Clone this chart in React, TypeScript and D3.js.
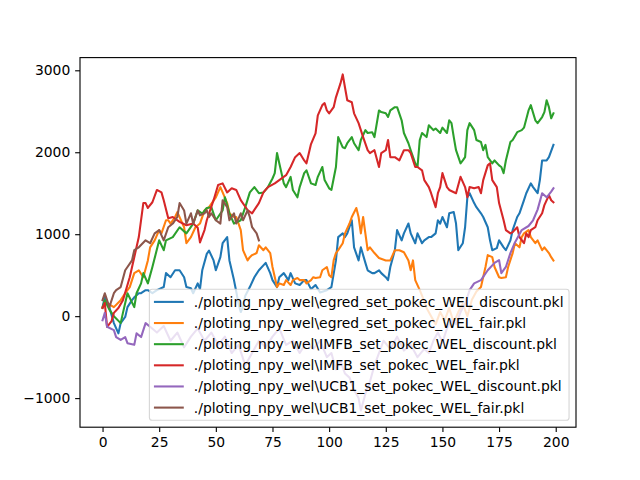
import { useRef, useEffect } from 'react';
import * as d3 from 'd3';

type Pt = [number, number];

// [step, welfare] pairs
const egredDiscount: Pt[] = [
  [0, 110], [1, 230], [3, 110], [5, -85], [7, -210], [8, -85], [10, -10], [11, 110], [13, 195], [14, 230],
  [16, 280], [17, 280], [19, 317], [20, 317], [22, 280], [24, 317], [27, 355], [28, 525], [30, 475], [32, 560],
  [34, 560], [36, 475], [37, 355], [39, 340], [40, 280], [42, 400], [43, 330], [44, 560], [46, 760], [47, 800],
  [49, 680], [50, 560], [52, 720], [53, 890], [55, 965], [56, 680], [58, 440], [59, 300], [60, 150], [61, 50],
  [62, 120], [63, 250], [65, 355], [67, 475], [69, 560], [72, 650], [74, 525], [75, 440], [77, 355], [78, 475],
  [80, 525], [82, 440], [83, 525], [85, 400], [87, 380], [89, 440], [90, 440], [92, 330], [94, 380], [96, 290],
  [99, 317], [101, 355], [103, 680], [104, 965], [106, 1010], [107, 965], [108, 1010], [110, 1170], [111, 840], [113, 680],
  [114, 840], [116, 650], [117, 560], [119, 525], [120, 525], [122, 560], [123, 525], [125, 475], [126, 440], [127, 600],
  [129, 805], [130, 1050], [132, 925], [133, 1010], [135, 1130], [136, 1010], [138, 890], [139, 1010], [141, 890], [142, 925],
  [144, 965], [145, 965], [147, 1010], [148, 1170], [149, 1130], [150, 1210], [152, 1085], [153, 1255], [155, 1270], [156, 1130],
  [157, 805], [159, 890], [160, 1085], [161, 1450], [162, 1500], [164, 1380], [165, 1330], [167, 1255], [168, 1210], [170, 1085],
  [171, 925], [172, 805], [174, 830], [175, 925], [177, 840], [178, 805], [180, 925], [181, 1050], [183, 1210], [184, 1255],
  [186, 1415], [187, 1500], [189, 1620], [190, 1575], [192, 1500], [193, 1660], [194, 1900], [196, 1900], [197, 1940], [199, 2090],
];

const egredFair: Pt[] = [
  [0, 110], [2, 160], [5, 110], [8, 195], [10, 280], [12, 355], [14, 525], [16, 560], [18, 475], [20, 680],
  [21, 840], [23, 925], [25, 1050], [26, 1010], [28, 1170], [29, 1170], [30, 1130], [32, 1210], [33, 1270], [36, 1085],
  [37, 890], [39, 965], [41, 1085], [43, 1130], [45, 1290], [47, 1330], [50, 1450], [52, 1575], [53, 1510], [55, 1380],
  [56, 1255], [58, 1210], [59, 1210], [61, 1050], [62, 805], [64, 680], [65, 720], [66, 745], [68, 770], [69, 865],
  [71, 805], [72, 840], [74, 770], [75, 600], [77, 355], [78, 400], [80, 380], [81, 440], [83, 380], [84, 440],
  [86, 465], [87, 440], [89, 440], [90, 400], [92, 440], [93, 475], [94, 465], [96, 475], [97, 560], [99, 600],
  [100, 500], [101, 475], [102, 680], [103, 770], [104, 805], [106, 890], [107, 1010], [109, 1130], [110, 1210], [112, 1320],
  [113, 1210], [114, 1010], [115, 1210], [117, 805], [118, 840], [120, 770], [122, 710], [125, 680], [127, 680], [129, 805],
  [131, 805], [133, 780], [135, 680], [136, 560], [137, 680], [138, 440], [140, 317], [141, 250], [143, 100], [145, 0],
  [147, -100], [149, 50], [151, -50], [153, 100], [155, -80], [157, 50], [159, 150], [161, 0], [163, 200], [165, 300],
  [167, 355], [169, 600], [170, 745], [172, 720], [173, 600], [175, 475], [176, 465], [178, 475], [179, 600], [181, 770],
  [182, 890], [184, 840], [185, 965], [186, 1010], [188, 1050], [189, 965], [191, 890], [192, 925], [194, 805], [195, 840],
  [197, 770], [198, 720], [199, 680],
];

const imfbDiscount: Pt[] = [
  [0, 100], [1, 195], [3, 80], [5, 0], [8, -85], [9, 40], [11, 280], [14, 110], [15, 280], [17, 400],
  [18, 525], [20, 400], [22, 600], [25, 925], [27, 805], [28, 925], [31, 965], [34, 1085], [37, 1010], [40, 1130],
  [42, 1290], [44, 1250], [46, 1320], [48, 1330], [50, 1170], [53, 1290], [54, 1450], [56, 1255], [58, 1130], [61, 1170],
  [63, 1330], [65, 1510], [67, 1575], [69, 1500], [71, 1510], [73, 1575], [75, 1680], [76, 1745], [77, 1990], [78, 1865],
  [80, 1620], [81, 1575], [83, 1700], [84, 1540], [86, 1450], [87, 1575], [89, 1745], [90, 1780], [92, 1620], [94, 1600],
  [95, 1700], [97, 1820], [98, 1660], [100, 1560], [101, 1540], [103, 1820], [104, 2185], [106, 2060], [107, 2050], [108, 2110],
  [110, 2185], [111, 2110], [113, 2025], [114, 2150], [116, 2270], [117, 2235], [119, 2245], [120, 2185], [122, 2510], [123, 2490],
  [125, 2475], [126, 2430], [127, 2510], [129, 2550], [130, 2550], [132, 2390], [133, 2235], [135, 2110], [136, 2025], [138, 1865],
  [139, 1820], [140, 2150], [141, 2235], [143, 2185], [144, 2330], [146, 2270], [147, 2290], [149, 2235], [150, 2300], [152, 2235],
  [153, 2390], [154, 2355], [155, 2185], [156, 2025], [158, 1865], [159, 1900], [160, 1940], [161, 2270], [162, 2355], [164, 2270],
  [165, 2150], [167, 2125], [168, 2025], [169, 2090], [170, 1940], [172, 1865], [173, 1900], [175, 1840], [176, 1820], [177, 1745],
  [178, 1900], [180, 2125], [181, 2150], [183, 2245], [185, 2270], [186, 2300], [188, 2510], [189, 2575], [191, 2390], [192, 2355],
  [194, 2430], [195, 2490], [196, 2635], [197, 2550], [198, 2415], [199, 2475],
];

const imfbFair: Pt[] = [
  [0, 100], [1, 160], [2, -130], [4, -60], [5, 40], [7, 100], [9, 195], [12, 475], [14, 720], [16, 965],
  [18, 1380], [19, 1380], [20, 1320], [22, 1390], [24, 1540], [26, 1510], [27, 1415], [29, 1195], [31, 1210], [34, 1150],
  [37, 1110], [40, 1130], [42, 1080], [43, 900], [45, 1050], [46, 1170], [49, 1415], [51, 1600], [53, 1620], [55, 1510],
  [57, 1560], [59, 1540], [61, 1415], [64, 1295], [66, 1255], [69, 1380], [71, 1510], [73, 1575], [76, 1620], [78, 1660],
  [81, 1720], [83, 1820], [85, 1940], [87, 1990], [89, 1900], [90, 1865], [92, 2100], [94, 2230], [95, 2450], [97, 2575],
  [98, 2600], [99, 2510], [100, 2475], [102, 2550], [103, 2670], [105, 2840], [106, 2950], [107, 2790], [108, 2635], [110, 2610],
  [111, 2475], [113, 2355], [115, 2185], [117, 2025], [118, 1990], [120, 2025], [122, 1820], [123, 1990], [125, 2025], [126, 2150],
  [127, 1940], [129, 1940], [131, 1900], [133, 2025], [135, 2025], [136, 1990], [138, 1820], [139, 1820], [141, 1780], [142, 1660],
  [144, 1575], [145, 1500], [147, 1330], [148, 1500], [149, 1575], [150, 1745], [152, 1575], [153, 1540], [156, 1500], [158, 1700],
  [160, 1575], [161, 1450], [162, 1575], [164, 1560], [166, 1575], [167, 1500], [168, 1660], [170, 1840], [171, 1865], [172, 1660],
  [174, 1575], [175, 1380], [177, 1170], [178, 1050], [180, 1010], [181, 1025], [183, 1085], [184, 965], [186, 890], [187, 1010],
  [188, 965], [189, 1050], [191, 1085], [192, 1170], [194, 1255], [195, 1355], [197, 1475], [198, 1415], [199, 1390],
];

const ucbDiscount: Pt[] = [
  [0, -50], [1, 40], [2, -130], [5, -170], [6, -255], [8, -290], [10, -255], [11, -330], [14, -350], [15, -210],
  [17, -255], [18, -170], [19, -85], [21, -130], [24, -200], [27, -120], [30, -300], [33, -200], [36, -380], [39, -250],
  [42, -150], [45, -300], [48, -200], [51, -350], [54, -250], [57, -450], [60, -350], [63, -600], [66, -450], [69, -300],
  [72, -380], [75, -250], [78, -150], [81, -350], [84, -300], [87, -450], [90, -320], [93, -400], [96, -300], [99, -500],
  [101, -450], [103, -650], [105, -550], [107, -700], [109, -750], [111, -900], [113, -1000], [114, -1150], [116, -950], [118, -800],
  [120, -600], [122, -450], [124, -300], [127, -400], [130, -250], [133, -420], [136, -350], [139, -500], [142, -400], [144, -450],
  [146, -300], [148, -200], [150, -320], [152, -150], [154, -50], [156, -100], [158, 50], [160, 150], [162, 317], [164, 400],
  [167, 440], [170, 560], [173, 650], [175, 683], [176, 525], [178, 600], [180, 770], [182, 900], [185, 1050], [188, 1100],
  [190, 1170], [192, 1300], [194, 1500], [196, 1450], [198, 1520], [199, 1560],
];

const ucbFair: Pt[] = [
  [0, 195], [1, 280], [3, 110], [5, 280], [6, 317], [8, 355], [10, 560], [11, 600], [13, 680], [14, 805],
  [16, 840], [19, 925], [21, 890], [23, 1010], [25, 1050], [27, 925], [29, 1085], [31, 1130], [33, 1210], [34, 1380],
  [36, 1290], [37, 1130], [39, 1255], [40, 1130], [42, 1290], [43, 1230], [45, 1255], [46, 1290], [47, 1210], [48, 1255],
  [50, 1170], [52, 1130], [53, 1415], [55, 1330], [56, 1170], [58, 1255], [59, 1130], [61, 1255], [62, 1170], [64, 1290],
  [65, 1210], [66, 1085], [68, 1010], [69, 925],
];

const seriesLabels = [
  './ploting_npy_wel\\egred_set_pokec_WEL_discount.pkl',
  './ploting_npy_wel\\egred_set_pokec_WEL_fair.pkl',
  './ploting_npy_wel\\IMFB_set_pokec_WEL_discount.pkl',
  './ploting_npy_wel\\IMFB_set_pokec_WEL_fair.pkl',
  './ploting_npy_wel\\UCB1_set_pokec_WEL_discount.pkl',
  './ploting_npy_wel\\UCB1_set_pokec_WEL_fair.pkl',
];

const seriesColors = ['#1f77b4', '#ff7f0e', '#2ca02c', '#d62728', '#9467bd', '#8c564b'];

const xTicks = [0, 25, 50, 75, 100, 125, 150, 175, 200];
const yTicks = [-1000, 0, 1000, 2000, 3000];

export default function App() {
  const svgRef = useRef<SVGSVGElement>(null);

  useEffect(() => {
    if (!svgRef.current) return;
    const svg = d3.select(svgRef.current);
    svg.selectAll('*').remove();

    const W = 640;
    const H = 480;
    const left = 80;
    const right = 576;
    const top = 57.6;
    const bottom = 427.2;
    const font = 'DejaVu Sans, sans-serif';
    const fs = 13.89;

    const series = [egredDiscount, egredFair, imfbDiscount, imfbFair, ucbDiscount, ucbFair];
    const allPts = series.flat();
    const [xmin, xmax] = d3.extent(allPts, (d) => d[0]) as [number, number];
    const [ymin, ymax] = d3.extent(allPts, (d) => d[1]) as [number, number];
    const xpad = (xmax - xmin) * 0.05;
    const ypad = (ymax - ymin) * 0.05;

    const x = d3.scaleLinear().domain([xmin - xpad, xmax + xpad]).range([left, right]);
    const y = d3.scaleLinear().domain([ymin - ypad, ymax + ypad]).range([bottom, top]);

    svg.append('rect').attr('width', W).attr('height', H).attr('fill', '#fff');

    // Lines
    const line = d3.line<Pt>().x((d) => x(d[0])).y((d) => y(d[1]));
    series.forEach((s, i) => {
      svg.append('path')
        .attr('d', line(s))
        .attr('fill', 'none')
        .attr('stroke', seriesColors[i])
        .attr('stroke-width', 2.08)
        .attr('stroke-linejoin', 'round')
        .attr('stroke-linecap', 'square');
    });

    // Axes
    const xAxis = svg.append('g')
      .attr('transform', `translate(0,${bottom})`)
      .call(d3.axisBottom(x).tickValues(xTicks).tickSize(4.86).tickPadding(4.86).tickFormat(d3.format('d')));
    const yAxis = svg.append('g')
      .attr('transform', `translate(${left},0)`)
      .call(d3.axisLeft(y).tickValues(yTicks).tickSize(4.86).tickPadding(4.86).tickFormat(d3.format('d')));
    for (const a of [xAxis, yAxis]) {
      a.select('.domain').remove();
      a.selectAll('line').attr('stroke', '#000').attr('stroke-width', 1.11);
      a.selectAll('text').attr('font-family', font).attr('font-size', fs).attr('fill', '#000');
    }

    svg.append('rect')
      .attr('x', left)
      .attr('y', top)
      .attr('width', right - left)
      .attr('height', bottom - top)
      .attr('fill', 'none')
      .attr('stroke', '#000')
      .attr('stroke-width', 1.11);

    // Legend
    const borderPad = 5.56;
    const handleLen = 27.78;
    const handlePad = 11.11;
    const rowH = 14.2;
    const rowGap = 6.94;
    const axPad = 6.94;
    const legend = svg.append('g');
    const box = legend.append('rect');
    const texts = seriesLabels.map((lab) =>
      legend.append('text')
        .attr('font-family', font)
        .attr('font-size', fs)
        .attr('fill', '#000')
        .attr('dy', '0.36em')
        .text(lab)
    );
    const maxW = d3.max(texts, (t) => (t.node() as SVGTextElement).getComputedTextLength()) ?? 0;
    const boxW = borderPad * 2 + handleLen + handlePad + maxW;
    const boxH = borderPad * 2 + seriesLabels.length * rowH + (seriesLabels.length - 1) * rowGap;
    const bx = right - axPad - boxW;
    const by = bottom - axPad - boxH;
    box.attr('x', bx)
      .attr('y', by)
      .attr('width', boxW)
      .attr('height', boxH)
      .attr('rx', 2.8)
      .attr('fill', '#fff')
      .attr('fill-opacity', 0.8)
      .attr('stroke', '#cccccc')
      .attr('stroke-opacity', 0.8)
      .attr('stroke-width', 1.11);
    texts.forEach((t, i) => {
      const cy = by + borderPad + rowH / 2 + i * (rowH + rowGap);
      legend.append('line')
        .attr('x1', bx + borderPad)
        .attr('x2', bx + borderPad + handleLen)
        .attr('y1', cy)
        .attr('y2', cy)
        .attr('stroke', seriesColors[i])
        .attr('stroke-width', 2.08)
        .attr('stroke-linecap', 'square');
      t.attr('x', bx + borderPad + handleLen + handlePad).attr('y', cy);
    });
  }, []);

  return (
    <svg
      ref={svgRef}
      width={640}
      height={480}
      style={{ position: 'absolute', left: 0, top: 0 }}
    />
  );
}
